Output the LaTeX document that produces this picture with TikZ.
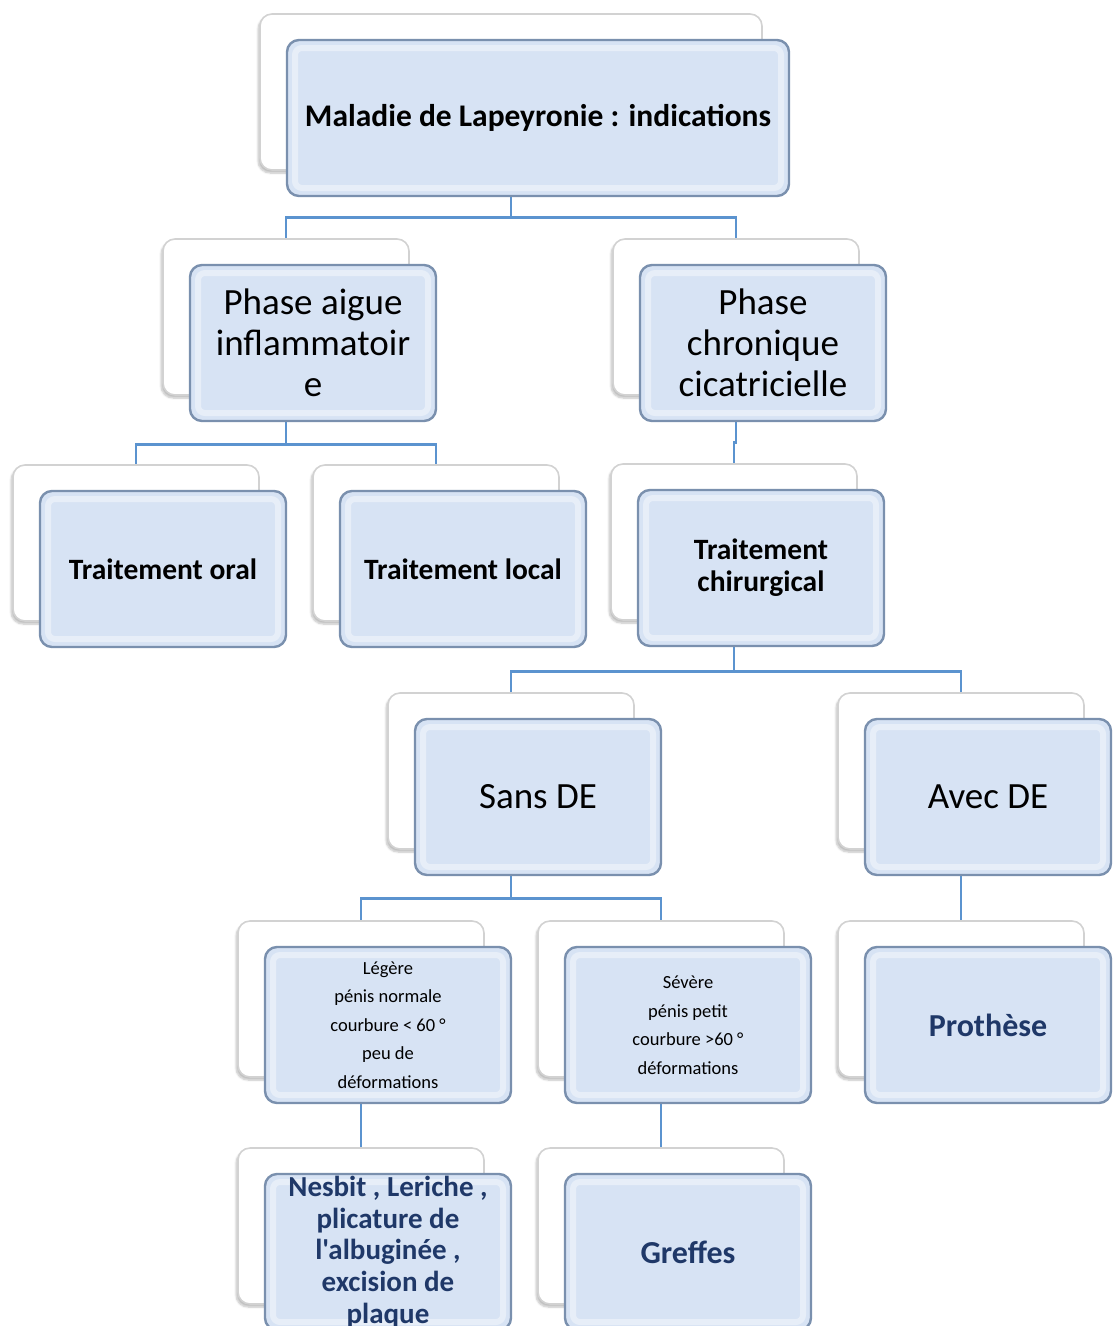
\documentclass[tikz,border=0pt]{standalone}
\usepackage{fontspec}
\setmainfont{Carlito}
\newfontfamily\plaincarlito{Carlito}
\usepackage{tikz}
\usetikzlibrary{positioning,calc,backgrounds,shadows.blur}
\definecolor{boxFill} {HTML}{D7E3F4}
\definecolor{boxEdge} {HTML}{7A90AE}
\definecolor{linkBlue}{HTML}{5B93CF}
\definecolor{navy}    {HTML}{1F3868}
\definecolor{ghost}   {HTML}{D2D2D2}

\begin{document}
\begin{tikzpicture}[x=1pt, y=-1pt,
  backbox/.style={draw=ghost, line width=1.6pt, fill=white, rounded corners=12pt,
    minimum width=246pt, minimum height=156pt,
    blur shadow={shadow xshift=-2pt, shadow yshift=-3pt, shadow blur steps=6, shadow opacity=25}},
  frontbox/.style={draw=boxEdge, line width=2.4pt, fill=boxFill, rounded corners=12pt,
    minimum width=246pt, minimum height=156pt, align=center, inner sep=1pt,
    path picture={\draw[white, opacity=.4, line width=6pt, rounded corners=7pt]
      ([xshift=8pt,yshift=-8pt]path picture bounding box.north west) rectangle
      ([xshift=-8pt,yshift=8pt]path picture bounding box.south east);}},
  link/.style={draw=linkBlue, line width=2.6pt},
  titlefont/.style={font=\fontsize{31.5}{38}\selectfont\bfseries},
  bigfont/.style={font=\fontsize{37}{41}\selectfont},
  boldfont/.style={font=\fontsize{29.5}{32}\selectfont\bfseries},
  smallfont/.style={font=\fontsize{18.5}{28.5}\selectfont},
  navyfont/.style={font=\plaincarlito\fontsize{32}{32}\selectfont\bfseries, text=navy},
  nesbitfont/.style={font=\plaincarlito\fontsize{29}{31.7}\selectfont\bfseries, text=navy}]
 \useasboundingbox (0,0) rectangle (1112,1326);

 % back cards
 \node[backbox, minimum width=502pt] (top-b) at (511,92) {};
 \foreach \n/\x/\y in {aigue/313/343, chron/763/343, oral/163/569, local/463/569,
                       chir/761/568, sans/538/797, avec/988/797, legere/388/1025,
                       severe/688/1025, prothese/988/1025, nesbit/388/1252, greffes/688/1252}
   \node[backbox] (\n-b) at (\x-27,\y-26) {};

 % front cards
 \node[frontbox, titlefont, minimum width=502pt] (top) at (538,118)
   {Maladie de Lapeyronie : indications};
 \node[frontbox, bigfont] (aigue) at (313,343) {Phase aigue\\inflammatoir\\e};
 \node[frontbox, bigfont] (chron) at (763,343) {Phase\\chronique\\cicatricielle};
 \node[frontbox, boldfont] (oral) at (163,569) {Traitement oral};
 \node[frontbox, boldfont] (local) at (463,569) {Traitement local};
 \node[frontbox, boldfont] (chir) at (761,568) {Traitement\\chirurgical};
 \node[frontbox, bigfont] (sans) at (538,797) {Sans DE};
 \node[frontbox, bigfont] (avec) at (988,797) {Avec DE};
 \node[frontbox, smallfont] (legere) at (388,1025)
   {Légère\\pénis normale\\courbure < 60 °\\peu de\\déformations};
 \node[frontbox, smallfont] (severe) at (688,1025)
   {Sévère\\pénis petit\\courbure >60 °\\déformations};
 \node[frontbox, navyfont] (prothese) at (988,1025) {Prothèse};
 \node[frontbox, nesbitfont] (nesbit) at (388,1252)
   {Nesbit , Leriche ,\\plicature de\\l'albuginée ,\\excision de\\plaque};
 \node[frontbox, navyfont] (greffes) at (688,1252) {Greffes};

 % connectors
 \begin{scope}[on background layer]
  \foreach \p/\c/\d in {top/aigue/20, top/chron/20, aigue/oral/22, aigue/local/22,
                        chron/chir/20, chir/sans/24, chir/avec/24, sans/legere/22,
                        sans/severe/22, avec/prothese/22, legere/nesbit/22, severe/greffes/22}
    \draw[link] (\p-b.center) |- ($(\p-b.center |- \p.south)+(0,\d)$) -| (\c-b.north);
 \end{scope}
\end{tikzpicture}
\end{document}
